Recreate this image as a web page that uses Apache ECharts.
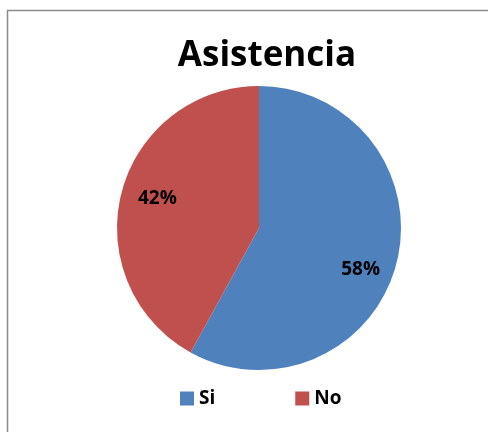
<!DOCTYPE html>
<html><head><meta charset="utf-8">
<script src="https://cdn.jsdelivr.net/npm/echarts@6/dist/echarts.min.js"></script>
<style>html,body{margin:0;padding:0;background:#fff}#c{width:488px;height:432px}</style>
</head><body><div id="c"></div>
<script>
var titleText = 'Asistencia';
var categories = ['Si', 'No'];
var values = [58, 42];
var colors = ['#4F81BD', '#C0504D'];

var chart = echarts.init(document.getElementById('c'), null, {renderer: 'canvas'});
var data = categories.map(function (n, i) { return {name: n, value: values[i], itemStyle: {color: colors[i]}}; });
var labelOffsets = [[-4, 14], [4, -2]];
var font = 'Open Sans';
chart.setOption({
  animation: false,
  backgroundColor: '#fff',
  title: {text: titleText, left: 262, top: 34, textAlign: 'center',
    textStyle: {fontFamily: font, fontWeight: 'bold', fontSize: 35, color: '#000'}},
  legend: {data: categories, top: 384, left: 175, itemWidth: 14, itemHeight: 14, itemGap: 80,
    icon: 'rect', textStyle: {fontFamily: font, fontWeight: 'bold', fontSize: 19, color: '#000'}},
  graphic: [{type: 'rect', shape: {x: 7.5, y: 10.5, width: 600, height: 600},
    style: {fill: 'none', stroke: '#8c8c8c', lineWidth: 1.5}, z: 100}],
  series: [{
    type: 'pie', center: [259, 228], radius: [0, 142], startAngle: 90, clockwise: true,
    label: {show: false}, labelLine: {show: false}, data: data, silent: true
  }, {
    type: 'pie', center: [259, 228], radius: [70, 142], startAngle: 90, clockwise: true,
    itemStyle: {color: 'rgba(0,0,0,0)'}, silent: true, legendHoverLink: false,
    label: {show: true, position: 'inside', formatter: '{d}%', fontFamily: font, fontWeight: 'bold', fontSize: 19, color: '#000'},
    labelLine: {show: false},
    data: categories.map(function (n, i) { return {name: n + ' ', value: values[i], label: {offset: labelOffsets[i]}}; })
  }]
});
</script></body></html>
